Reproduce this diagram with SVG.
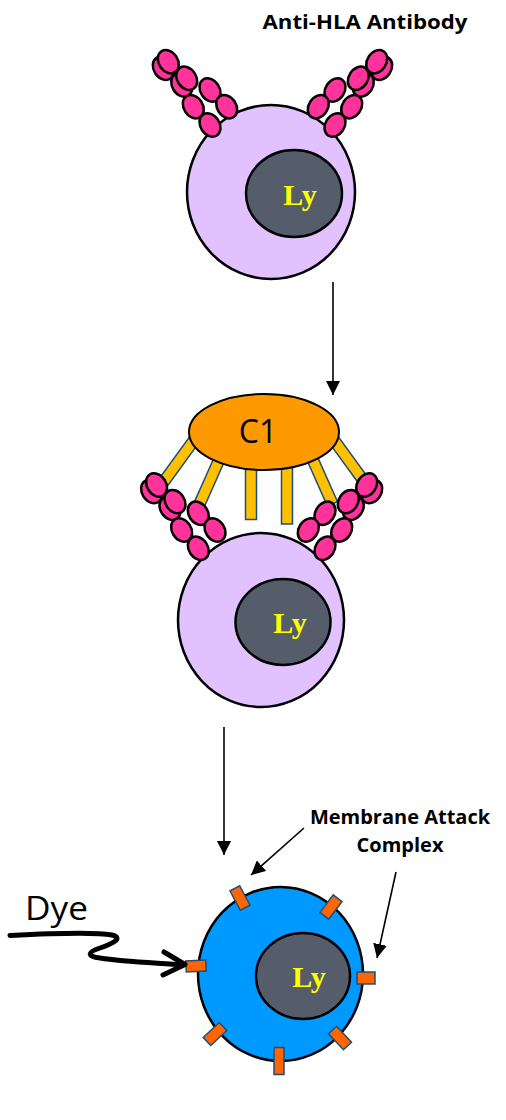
<svg xmlns="http://www.w3.org/2000/svg" xmlns:xlink="http://www.w3.org/1999/xlink" width="506" height="1120" viewBox="0 0 506 1120">
  <style>
    .cell { fill: #e1c2fe; stroke: #000; stroke-width: 2.5; }
    .dead { fill: #0099ff; stroke: #000; stroke-width: 2.5; }
    .nuc { fill: #555d6a; stroke: #000; stroke-width: 2.5; }
    .ly { font-family: "Liberation Serif", serif; font-weight: bold; font-size: 30px; fill: #ffff00; text-anchor: middle; }
    .dom { fill: #ff3399; stroke: #000; stroke-width: 2.5; }
    .bar { fill: #ffc000; stroke: #1f4e79; stroke-width: 1.5; }
    .mac { fill: #ff6600; stroke: #1f4e79; stroke-width: 1.5; }
    .c1 { fill: #ff9900; stroke: #000; stroke-width: 2; }
    .arrow { stroke: #000; stroke-width: 1.6; fill: none; marker-end: url(#head); }
    .lbl { font-family: "Open Sans", "Liberation Sans", sans-serif; font-weight: bold; font-size: 20px; fill: #000; text-anchor: middle; }
    .big { font-family: "Open Sans", "Liberation Sans", sans-serif; font-size: 32px; fill: #000; }
  </style>
  <defs>
    <marker id="head" markerUnits="userSpaceOnUse" markerWidth="14" markerHeight="14" refX="14" refY="7" orient="auto">
      <path d="M0,0 L14,7 L0,14 Z" fill="#000"/>
    </marker>
    <!-- one antibody, base domain at the origin, arms reaching up-left -->
    <g id="ab">
      <ellipse class="dom" cx="-46.7" cy="-56.7" rx="12.5" ry="9.5" transform="rotate(56.6 -46.7 -56.7)"/>
      <ellipse class="dom" cx="-41.7" cy="-63.3" rx="12.5" ry="9.5" transform="rotate(56.6 -41.7 -63.3)"/>
      <ellipse class="dom" cx="-28.3" cy="-40" rx="12.5" ry="9.5" transform="rotate(56.6 -28.3 -40)"/>
      <ellipse class="dom" cx="-23.3" cy="-46.7" rx="12.5" ry="9.5" transform="rotate(56.6 -23.3 -46.7)"/>
      <ellipse class="dom" cx="-16.7" cy="-18.3" rx="12.5" ry="9.5" transform="rotate(56.6 -16.7 -18.3)"/>
      <ellipse class="dom" cx="0" cy="0" rx="12.5" ry="9.5" transform="rotate(56.6)"/>
      <ellipse class="dom" cx="0" cy="-35" rx="12.5" ry="9.5" transform="rotate(56.6 0 -35)"/>
      <ellipse class="dom" cx="16.7" cy="-18.3" rx="12.5" ry="9.5" transform="rotate(56.6 16.7 -18.3)"/>
    </g>
  </defs>

  <text class="lbl" x="365" y="29" font-size="21" textLength="205" lengthAdjust="spacingAndGlyphs">Anti-HLA Antibody</text>

  <!-- stage 1: lymphocyte with bound antibodies -->
  <g id="cell1">
    <ellipse class="cell" cx="271" cy="192" rx="84" ry="87"/>
    <ellipse class="nuc" cx="294" cy="193.5" rx="48" ry="43.5"/>
    <text class="ly" x="300" y="205">Ly</text>
    <use xlink:href="#ab" transform="translate(210,125)"/>
    <use xlink:href="#ab" transform="translate(335,125) scale(-1,1)"/>
  </g>

  <!-- stage 2: C1 binding to the antibodies -->
  <g id="cell2">
    <ellipse class="cell" cx="261" cy="620" rx="83" ry="87"/>
    <ellipse class="nuc" cx="283" cy="622" rx="47.5" ry="43"/>
    <text class="ly" x="290" y="633">Ly</text>
  </g>
  <g id="c1">
    <rect class="bar" x="-5.5" y="0" width="11" height="75" transform="translate(205,425) rotate(36)"/>
    <rect class="bar" x="-5.5" y="0" width="11" height="70" transform="translate(228,440) rotate(24)"/>
    <rect class="bar" x="245.5" y="440" width="11" height="79.5"/>
    <rect class="bar" x="281.5" y="440" width="11" height="84"/>
    <rect class="bar" x="-5.5" y="0" width="11" height="70" transform="translate(304,440) rotate(-24)"/>
    <rect class="bar" x="-5.5" y="0" width="11" height="75" transform="translate(323,425) rotate(-36)"/>
    <ellipse class="c1" cx="264" cy="432" rx="75" ry="38"/>
    <text class="big" x="258" y="443" text-anchor="middle">C1</text>
  </g>
  <g id="ab2">
    <use xlink:href="#ab" transform="translate(198.3,548.3)"/>
    <use xlink:href="#ab" transform="translate(325,548.3) scale(-1,1)"/>
  </g>

  <!-- stage 3: lysed cell with membrane attack complexes, dye entering -->
  <g id="cell3">
    <ellipse class="dead" cx="280.5" cy="974" rx="82.5" ry="87"/>
    <ellipse class="nuc" cx="303" cy="976" rx="47" ry="43"/>
    <text class="ly" x="309" y="987">Ly</text>
    <rect class="mac" x="-11" y="-5.5" width="22" height="11" transform="translate(240,898) rotate(62)"/>
    <rect class="mac" x="-11" y="-5.5" width="22" height="11" transform="translate(331,907) rotate(-53)"/>
    <rect class="mac" x="-10" y="-5.5" width="20" height="11" transform="translate(196,966) rotate(-3)"/>
    <rect class="mac" x="-9" y="-6" width="18" height="12" transform="translate(366,978)"/>
    <rect class="mac" x="-11" y="-5.5" width="22" height="11" transform="translate(215,1034) rotate(-43)"/>
    <rect class="mac" x="-11" y="-5.5" width="22" height="11" transform="translate(340,1038) rotate(47)"/>
    <rect class="mac" x="-5" y="-13.5" width="10" height="27" transform="translate(279,1061)"/>
  </g>

  <g id="dye">
    <text class="big" x="25" y="920" font-size="36" textLength="63" lengthAdjust="spacingAndGlyphs">Dye</text>
    <path d="M10,935.5 C50,933.5 95,932 112,935 C124,938 112,944 100,948 C88,952 86,956 100,958 C125,962 160,963 183,965" fill="none" stroke="#000" stroke-width="5" stroke-linecap="round"/>
    <polyline points="164,952 185,964.5 163,975" fill="none" stroke="#000" stroke-width="5" stroke-linecap="round" stroke-linejoin="round"/>
  </g>

  <g id="mac-label">
    <text class="lbl" x="400" y="824">Membrane Attack</text>
    <text class="lbl" x="400" y="852">Complex</text>
  </g>

  <g id="connectors">
    <line class="arrow" x1="333" y1="282" x2="333" y2="395"/>
    <line class="arrow" x1="224" y1="727" x2="224" y2="855"/>
    <line class="arrow" x1="304" y1="828" x2="251" y2="875"/>
    <line class="arrow" x1="396" y1="872" x2="377" y2="958"/>
  </g>
</svg>
